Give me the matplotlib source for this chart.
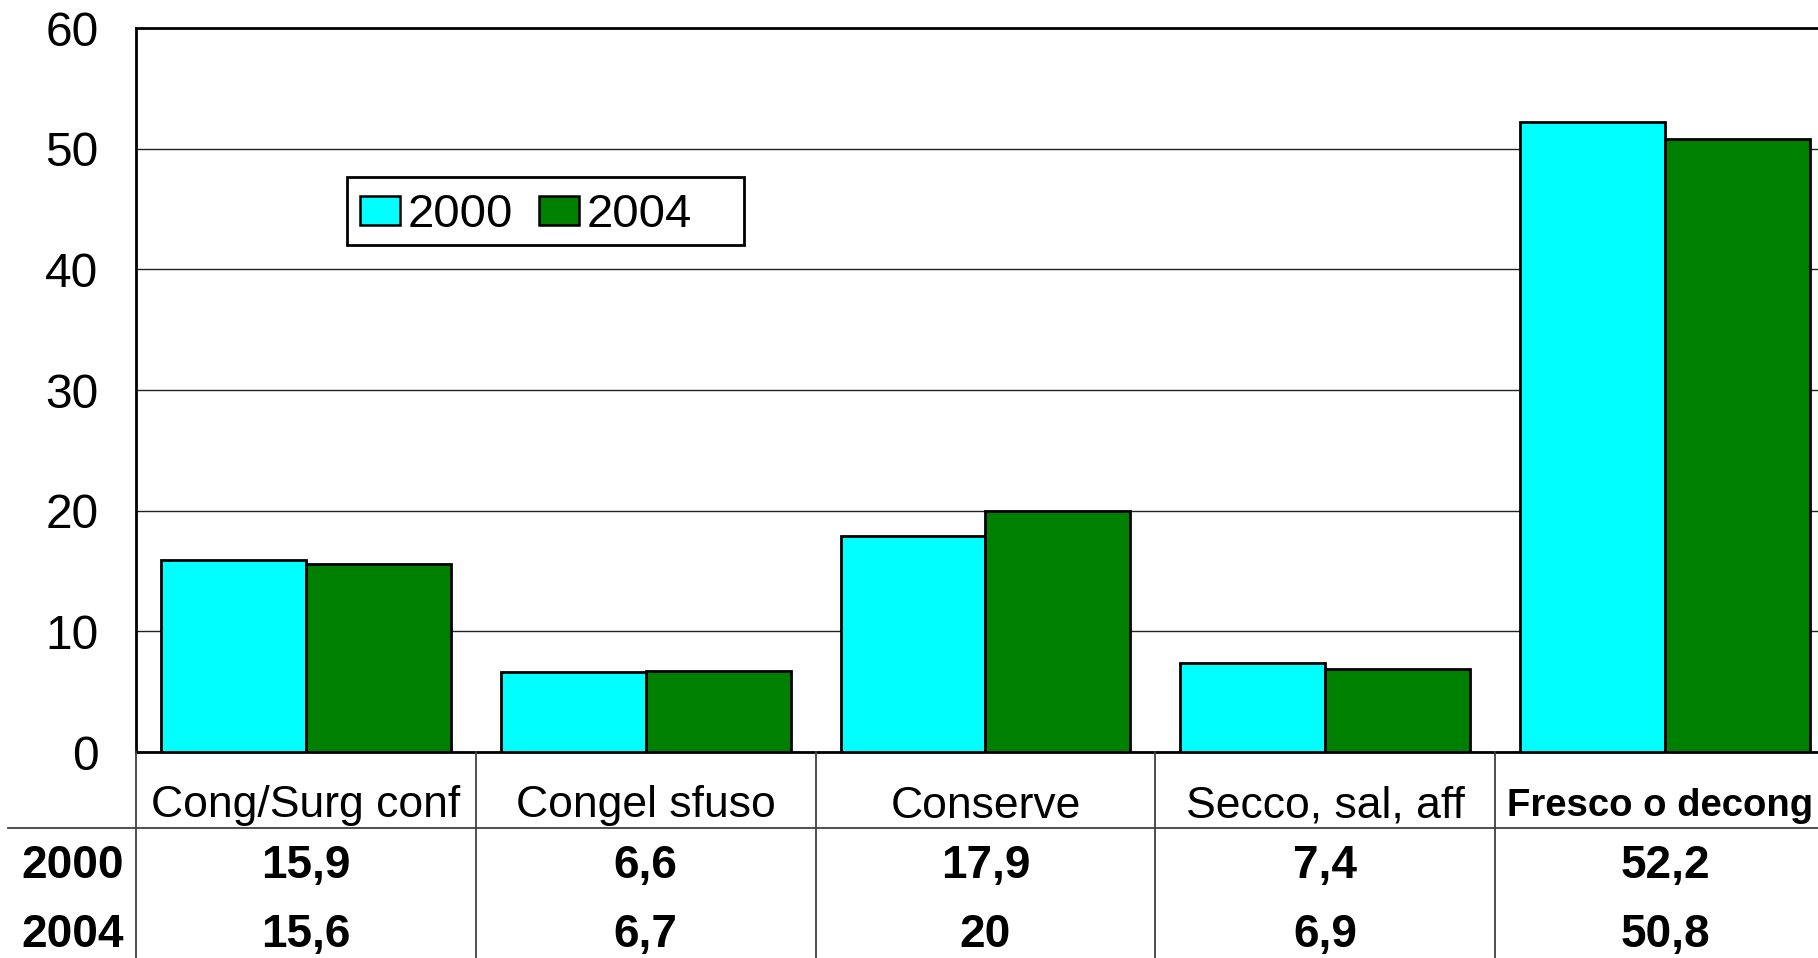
import matplotlib.pyplot as plt
import matplotlib.transforms as mtransforms
from matplotlib.patches import Rectangle
import numpy as np

plt.rcParams['font.family'] = ['Liberation Sans', 'DejaVu Sans']

# data
categories = ['Cong/Surg conf', 'Congel sfuso', 'Conserve', 'Secco, sal, aff', 'Fresco o decong']
years = ['2000', '2004']
v2000 = [15.9, 6.6, 17.9, 7.4, 52.2]
v2004 = [15.6, 6.7, 20, 6.9, 50.8]
colors = ['#00FFFF', '#008000']

W, H = 1818, 958
fig = plt.figure(figsize=(W / 100, H / 100), dpi=100)

# plot area in pixels (right edge runs past the picture, as in the original)
left, right, top, bottom = 136, 1835, 28, 752
ax = fig.add_axes([left / W, 1 - bottom / H, (right - left) / W, (bottom - top) / H])

x = np.arange(len(categories))
bw = 0.4265
ax.bar(x - bw / 2, v2000, bw, color=colors[0], edgecolor='black', linewidth=2, label=years[0], zorder=3)
ax.bar(x + bw / 2, v2004, bw, color=colors[1], edgecolor='black', linewidth=2, label=years[1], zorder=3)

ax.set_xlim(-0.5, len(categories) - 0.5)
ax.set_ylim(0, 60)
ax.set_yticks(range(0, 61, 10))
ax.tick_params(axis='y', labelsize=34.5, length=0, pad=27)
ax.set_xticks([])
ax.grid(axis='y', color='#222222', linewidth=1.0, zorder=0)
for s in ['top', 'left', 'bottom']:
    ax.spines[s].set_linewidth(2)
ax.spines['right'].set_visible(False)

def fy(px):
    return 1 - px / H

# legend: box drawn separately, entries inside
fig.add_artist(Rectangle((347 / W, fy(245)), (744 - 347) / W, (245 - 177) / H, transform=fig.transFigure,
                         facecolor='white', edgecolor='black', linewidth=2, zorder=5))
leg = fig.legend(*ax.get_legend_handles_labels(), loc='center left', bbox_to_anchor=(360 / W, fy(215)),
                 ncol=2, fontsize=34, frameon=False, borderpad=0,
                 handlelength=0.85, handleheight=0.58, handletextpad=0.16, columnspacing=0.55,
                 borderaxespad=0)
leg.set_zorder(6)
for p in leg.get_patches():
    p.set_linewidth(1.8)

# data table under the chart
bt = mtransforms.blended_transform_factory(ax.transData, fig.transFigure)

line_kw = dict(color='#404040', linewidth=1.3, clip_on=False)
for b in np.arange(-0.5, len(categories) - 0.4, 1.0):
    fig.add_artist(plt.Line2D([b, b], [fy(bottom), fy(H + 5)], transform=bt, **line_kw))
fig.add_artist(plt.Line2D([8 / W, 1], [fy(828), fy(828)], transform=fig.transFigure, **line_kw))

for i, c in enumerate(categories):
    if i == len(categories) - 1:
        fig.text(1507 / W, fy(806), c, fontsize=27.5, fontweight='bold', ha='left', va='center')
    else:
        fig.text(i, fy(806), c, transform=bt, fontsize=32, ha='center', va='center')

for row_y, yr, vals in [(866, years[0], v2000), (935, years[1], v2004)]:
    fig.text(73 / W, fy(row_y), yr, fontsize=33, fontweight='bold', ha='center', va='center')
    for i, v in enumerate(vals):
        s = ('%g' % v).replace('.', ',')
        fig.text(i, fy(row_y), s, transform=bt, fontsize=33, fontweight='bold', ha='center', va='center')

fig.savefig('out.png', dpi=100)
